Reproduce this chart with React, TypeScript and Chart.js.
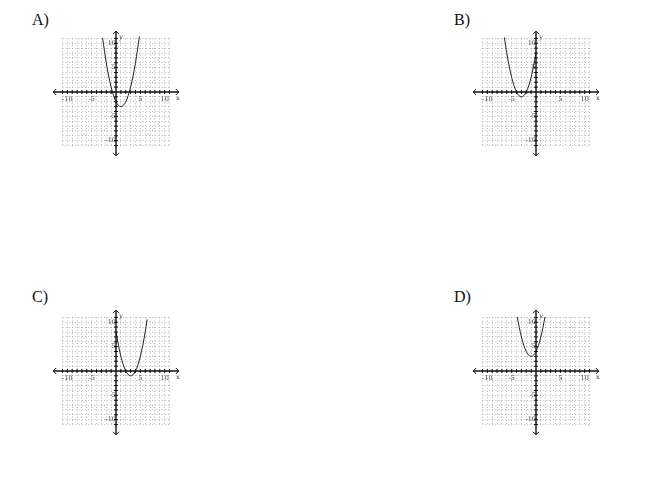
import React, { useEffect, useRef } from 'react';
import { Chart, registerables } from 'chart.js';

Chart.register(...registerables);

// grid and axis ranges (graph units)
const gridMin = -11;
const gridMax = 11;
const axisXEnds = [-12.9, 12.9];
const axisYEnds = [-13.1, 12.5];
const tickLabels = [-10, -5, 5, 10];

const panelLabels = ['A)', 'B)', 'C)', 'D)'];

// parabola points
const curveAX = [-2.75, -2, -1, 0, 1, 2, 3, 4, 4.8];
const curveAY = [11.1, 6, 1, -2, -3, -2, 1, 6, 11.4];

const curveBX = [-6.5, -6, -5, -4, -3, -2, -1, 0];
const curveBY = [11.2, 8, 3, 0, -1, 0, 3, 8];

const curveCX = [0, 1, 2, 3, 4, 5, 6, 6.4];
const curveCY = [8, 3, 0, -1, 0, 3, 8, 10.6];

const curveDX = [-3.85, -3, -2, -1, 0, 1, 1.85];
const curveDY = [11.1, 7, 4, 3, 4, 7, 11.1];

const UNIT = 4.87;
const BOX = 150;
const PAD = BOX / 2 - gridMax * UNIT;

const axesPlugin = {
  id: 'axesArrows',
  afterDraw(chart: any) {
    const { ctx } = chart;
    const x = chart.scales.x;
    const y = chart.scales.y;
    const x0 = x.getPixelForValue(0);
    const y0 = y.getPixelForValue(0);
    const line = (a: number, b: number, c: number, d: number) => {
      ctx.beginPath();
      ctx.moveTo(a, b);
      ctx.lineTo(c, d);
      ctx.stroke();
    };
    ctx.save();
    ctx.strokeStyle = '#111';
    ctx.lineWidth = 1.4;
    const xl = x.getPixelForValue(axisXEnds[0]);
    const xr = x.getPixelForValue(axisXEnds[1]);
    const yt = y.getPixelForValue(axisYEnds[1]);
    const yb = y.getPixelForValue(axisYEnds[0]);
    line(xl, y0, xr, y0);
    line(x0, yt, x0, yb);

    // tick marks across both axes
    ctx.lineWidth = 1;
    for (let v = gridMin; v <= gridMax; v++) {
      if (v === 0) continue;
      const px = x.getPixelForValue(v);
      line(px, y0 - 2, px, y0 + 2);
      const py = y.getPixelForValue(v);
      line(x0 - 2, py, x0 + 2, py);
    }

    // arrow heads
    const a = 3;
    ctx.lineWidth = 1;
    ctx.beginPath();
    ctx.moveTo(xl + a, y0 - a); ctx.lineTo(xl, y0); ctx.lineTo(xl + a, y0 + a);
    ctx.moveTo(xr - a, y0 - a); ctx.lineTo(xr, y0); ctx.lineTo(xr - a, y0 + a);
    ctx.moveTo(x0 - a, yt + a); ctx.lineTo(x0, yt); ctx.lineTo(x0 + a, yt + a);
    ctx.moveTo(x0 - a, yb - a); ctx.lineTo(x0, yb); ctx.lineTo(x0 + a, yb - a);
    ctx.stroke();

    ctx.fillStyle = '#333';
    ctx.font = '6.5px "DejaVu Serif"';
    ctx.textAlign = 'center';
    ctx.textBaseline = 'middle';
    ctx.fillText('x', x.getPixelForValue(12.7), y0 + 6.5);
    ctx.fillText('y', x0 + 5, y.getPixelForValue(11.3));
    ctx.restore();
  }
};

interface PanelProps {
  label: string;
  xs: number[];
  ys: number[];
  cx: number;
  cy: number;
}

const Panel: React.FC<PanelProps> = ({ label, xs, ys, cx, cy }) => {
  const canvasRef = useRef<HTMLCanvasElement | null>(null);

  useEffect(() => {
    if (!canvasRef.current) return;
    const tickFont = { size: 6.5, family: '"DejaVu Serif"' };
    const showLabel = (v: any) => (tickLabels.includes(Number(v)) ? String(v) : '');
    const chart = new Chart(canvasRef.current, {
      type: 'scatter',
      data: {
        datasets: [
          {
            label,
            data: xs.map((v, i) => ({ x: v, y: ys[i] })),
            showLine: true,
            borderColor: '#222',
            borderWidth: 1,
            pointRadius: 0,
            cubicInterpolationMode: 'monotone',
            clip: false
          } as any
        ]
      },
      options: {
        animation: false,
        responsive: true,
        maintainAspectRatio: false,
        layout: { padding: PAD },
        plugins: { legend: { display: false }, tooltip: { enabled: false } },
        scales: {
          x: {
            type: 'linear',
            min: gridMin,
            max: gridMax,
            position: { y: 0 } as any,
            ticks: {
              stepSize: 1,
              autoSkip: false,
              maxRotation: 0,
              padding: 3,
              color: '#3d3d5c',
              font: tickFont,
              callback: showLabel
            },
            grid: { color: '#9a9a9a', lineWidth: 0.7, drawTicks: false },
            border: { display: false, dash: [1, 2.2] }
          },
          y: {
            type: 'linear',
            min: gridMin,
            max: gridMax,
            position: { x: 0 } as any,
            ticks: {
              stepSize: 1,
              autoSkip: false,
              padding: 2,
              color: '#3d3d5c',
              font: tickFont,
              callback: showLabel
            },
            grid: { color: '#9a9a9a', lineWidth: 0.7, drawTicks: false },
            border: { display: false, dash: [1, 2.2] }
          }
        }
      },
      plugins: [axesPlugin]
    });
    return () => chart.destroy();
  }, [label, xs, ys]);

  return (
    <div
      style={{
        position: 'absolute',
        left: cx - BOX / 2,
        top: cy - BOX / 2,
        width: BOX,
        height: BOX
      }}
    >
      <canvas ref={canvasRef} />
    </div>
  );
};

const labelStyle = (left: number, top: number): React.CSSProperties => ({
  position: 'absolute',
  left,
  top,
  fontFamily: '"Liberation Serif", serif',
  fontSize: 16,
  color: '#111'
});

export default function App() {
  return (
    <div style={{ position: 'absolute', left: 0, top: 0, width: 650, height: 491, background: '#fff' }}>
      <span style={labelStyle(32, 11)}>{panelLabels[0]}</span>
      <span style={labelStyle(454, 11)}>{panelLabels[1]}</span>
      <span style={labelStyle(32, 287.5)}>{panelLabels[2]}</span>
      <span style={labelStyle(454, 287.5)}>{panelLabels[3]}</span>
      <Panel label="A" xs={curveAX} ys={curveAY} cx={116} cy={92.3} />
      <Panel label="B" xs={curveBX} ys={curveBY} cx={536} cy={92.3} />
      <Panel label="C" xs={curveCX} ys={curveCY} cx={116} cy={370.7} />
      <Panel label="D" xs={curveDX} ys={curveDY} cx={536} cy={370.7} />
    </div>
  );
}
